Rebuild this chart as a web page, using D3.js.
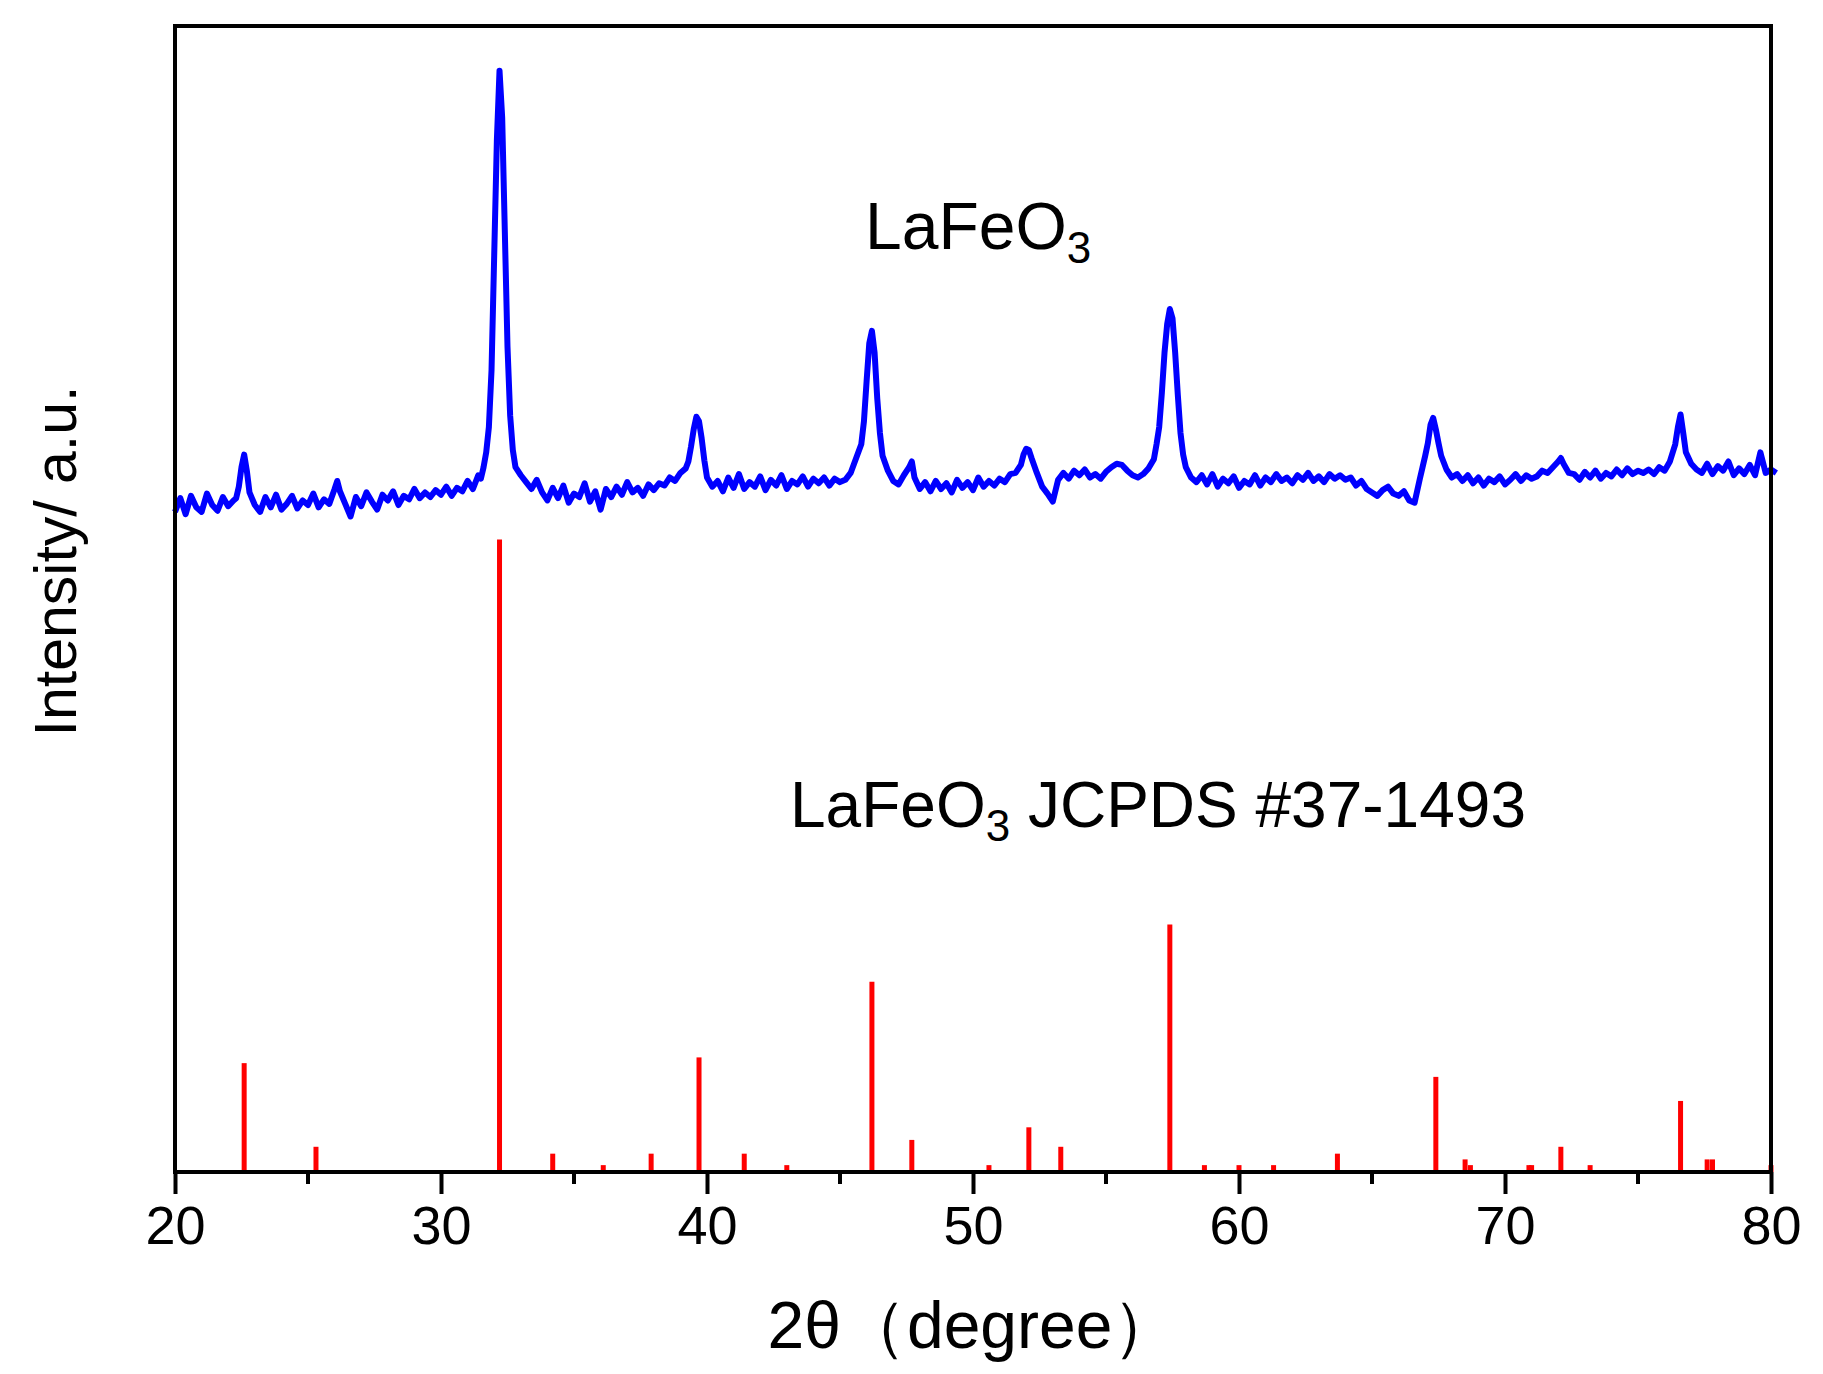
<!DOCTYPE html>
<html>
<head>
<meta charset="utf-8">
<script src="https://cdn.jsdelivr.net/npm/d3@7"></script>
<style>
  body { margin: 0; background: #fff; }
  text { font-family: "Liberation Sans", Arial, sans-serif; }
</style>
</head>
<body>
<svg id="chart" width="1823" height="1374"></svg>
<script>
// x ticks
var xTicks = [20, 30, 40, 50, 60, 70, 80];

// measured XRD pattern: regular stretches [start, step, values] and hand read peak points
var blueSegments = [
  [20.0, 0.2, [57.6,58.8,57.4,59.0,58.0,57.6,59.2,58.2,57.7,58.9,58.1,58.6]],
  [22.3, 0.1, [58.8,59.8,61.5,62.6,61.2,59.3]],
  [23.0, 0.2, [58.2,57.6,58.9,58.0,59.1,57.8,58.3,59.0,57.9,58.6,58.2,59.2,58.0,58.7,58.3]],
  [26.0, 0.1, [59.6,60.3,59.4]],
  [26.4, 0.2, [58.3,57.2,58.9,58.1,59.3,58.5,57.8,59.1,58.6,59.4,58.2,59.0,58.7,59.6,58.8,59.3,58.9,59.5,59.1,59.8,59.0,59.7,59.4,60.3,59.6,60.8]],
  [31.5, 0.1, [60.5,61.5,62.8,65,70,80,90,96.1,92,82,72,66,63,61.5]],
  [33.0, 0.2, [60.8,60.2,59.6,60.4,59.3,58.6,59.7,58.8,59.9,58.4,59.2,58.9,60.1,58.5,59.4,57.8,59.6,58.9,59.8,59.1,60.2,59.3,59.7,59.0,60.0,59.5,60.1,59.9,60.6,60.3,61.0,61.4]],
  [39.3, 0.1, [62.0,63.3,64.8,65.9,65.5,64.0,62.1,60.6]],
  [40.2, 0.2, [59.8,60.3,59.4,60.6,59.7,60.9,59.6,60.2,59.8,60.7,59.5,60.4,59.9,60.8,59.6,60.3,60.0,60.7,59.8,60.5,60.1,60.6,59.9,60.5,60.2,60.4,61.0]],
  [45.8, 0.1, [63.5,65.5,69,72.3,73.4,71.5,67.5,64.5,62.5]],
  [46.8, 0.2, [61.2,60.3,60.0,60.8,61.5]],
  [47.7, 0.1, [62.0,60.6]],
  [48.0, 0.2, [59.6,60.2,59.4,60.3,59.6,60.1,59.3,60.4,59.7,60.2,59.5,60.6,59.8,60.3,59.9,60.5,60.2,60.9,61.0]],
  [51.8, 0.1, [61.7,62.6,63.1,63.0,62.3]],
  [52.4, 0.2, [61.0,59.8,59.2,58.5,60.4,61.0,60.5,61.2,60.8,61.3,60.6,60.9,60.5,61.1,61.5,61.8,61.7,61.2,60.8,60.6,60.9,61.4,62.2]],
  [56.9, 0.1, [63.5,65,68,71.5,74,75.3,74.5,71.5,67.8,64.5,62.6,61.5]],
  [58.2, 0.2, [60.6,60.2,60.8,60.0,60.9,59.8,60.5,60.1,60.7,59.7,60.3,60.0,60.8,59.9,60.6,60.2,60.9,60.3,60.6,60.1,60.8,60.4,61.0,60.3,60.7,60.2,60.9,60.5,60.8,60.4,60.6,59.9,60.3,59.6,59.3,59.0,59.5,59.8,59.2,59.0,59.4,58.6,58.4,60.5]],
  [66.9, 0.1, [61.5,62.5,63.6,65.2,65.8,64.8,63.6,62.5]],
  [67.8, 0.2, [61.3,60.6,60.9,60.3,60.8,60.1,60.6,59.9,60.5,60.2,60.7,60.0,60.4,60.9,60.3,60.8,60.5,60.7,61.2,61.0,61.5,62.0]],
  [72.1, 0.1, [62.3,61.8]],
  [72.4, 0.2, [61.0,60.9,60.4,61.1,60.6,61.2,60.5,61.0,60.7,61.3,60.8,61.4,60.9,61.2,61.0,61.3,60.9,61.5,61.2,62.0]],
  [76.4, 0.1, [63.5,65.0,66.1,64.5,62.8]],
  [77.0, 0.2, [61.8,61.3,61.0,61.8,60.9,61.6,61.2,62.0,60.8,61.4,60.9,61.7,60.8,62.8,61.0,61.3,61.0]]
];

// JCPDS #37-1493 reference lines
var refPos = [22.6,25.3,32.2,34.2,36.1,37.9,39.7,41.4,43.0,46.2,47.7,50.6,52.1,53.3,57.4,58.7,60.0,61.3,63.7,67.4,68.5,68.7,70.9,71.0,72.1,73.2,76.6,77.6,77.8,80.0];
var refInt = [9.5,2.2,55.2,1.6,0.6,1.6,10.0,1.6,0.6,16.6,2.8,0.6,3.9,2.2,21.6,0.6,0.6,0.6,1.6,8.3,1.1,0.6,0.6,0.6,2.2,0.6,6.2,1.1,1.1,0.6];

var svg = d3.select("#chart");
var mLeft = 175, mRight = 1771, mTop = 26, mBottom = 1172;

var x = d3.scaleLinear().domain([20, 80]).range([mLeft, mRight]);
var y = d3.scaleLinear().domain([0, 100]).range([mBottom, mTop]);

// flatten blue segments into points
var bluePts = [];
blueSegments.forEach(function(s) {
  s[2].forEach(function(v, i) {
    bluePts.push([+(s[0] + i * s[1]).toFixed(2), v]);
  });
});

svg.append("path")
  .datum(bluePts)
  .attr("fill", "none")
  .attr("stroke", "#0000ff")
  .attr("stroke-width", 6)
  .attr("stroke-linejoin", "round")
  .attr("d", d3.line().x(d => x(d[0])).y(d => y(d[1])));

svg.selectAll(".ref")
  .data(refPos)
  .enter().append("line")
  .attr("x1", d => x(d)).attr("x2", d => x(d))
  .attr("y1", y(0))
  .attr("y2", (d, i) => y(refInt[i]))
  .attr("stroke", "#ff0000")
  .attr("stroke-width", 5);

// frame
svg.append("rect")
  .attr("x", mLeft).attr("y", mTop)
  .attr("width", mRight - mLeft).attr("height", mBottom - mTop)
  .attr("fill", "none").attr("stroke", "#000").attr("stroke-width", 4);

// bottom axis
var xAxis = d3.axisBottom(x).tickValues(xTicks).tickSize(22).tickPadding(12);
var gx = svg.append("g").attr("transform", "translate(0," + mBottom + ")").call(xAxis);
gx.select(".domain").remove();
gx.selectAll(".tick line").attr("stroke", "#000").attr("stroke-width", 4);
gx.selectAll(".tick text").attr("font-size", 54).attr("fill", "#000")
  .attr("font-family", "Liberation Sans, Arial, sans-serif");

var minor = d3.range(25, 80, 10);
svg.selectAll(".minor").data(minor).enter().append("line")
  .attr("x1", d => x(d)).attr("x2", d => x(d))
  .attr("y1", mBottom).attr("y2", mBottom + 12)
  .attr("stroke", "#000").attr("stroke-width", 4);

// labels
svg.append("text").attr("x", (mLeft + mRight) / 2).attr("y", 1348)
  .attr("text-anchor", "middle").attr("font-size", 66)
  .text("2θ（degree）");

svg.append("text")
  .attr("transform", "translate(76,561) rotate(-90)")
  .attr("text-anchor", "middle").attr("font-size", 59)
  .text("Intensity/ a.u.");

var t1 = svg.append("text").attr("x", 865).attr("y", 249).attr("font-size", 66);
t1.append("tspan").text("LaFeO");
t1.append("tspan").attr("font-size", 44).attr("dy", 14).text("3");

var t2 = svg.append("text").attr("x", 790).attr("y", 827).attr("font-size", 64);
t2.append("tspan").text("LaFeO");
t2.append("tspan").attr("font-size", 44).attr("dy", 14).text("3");
t2.append("tspan").attr("dy", -14).text(" JCPDS #37-1493");
</script>
</body>
</html>
